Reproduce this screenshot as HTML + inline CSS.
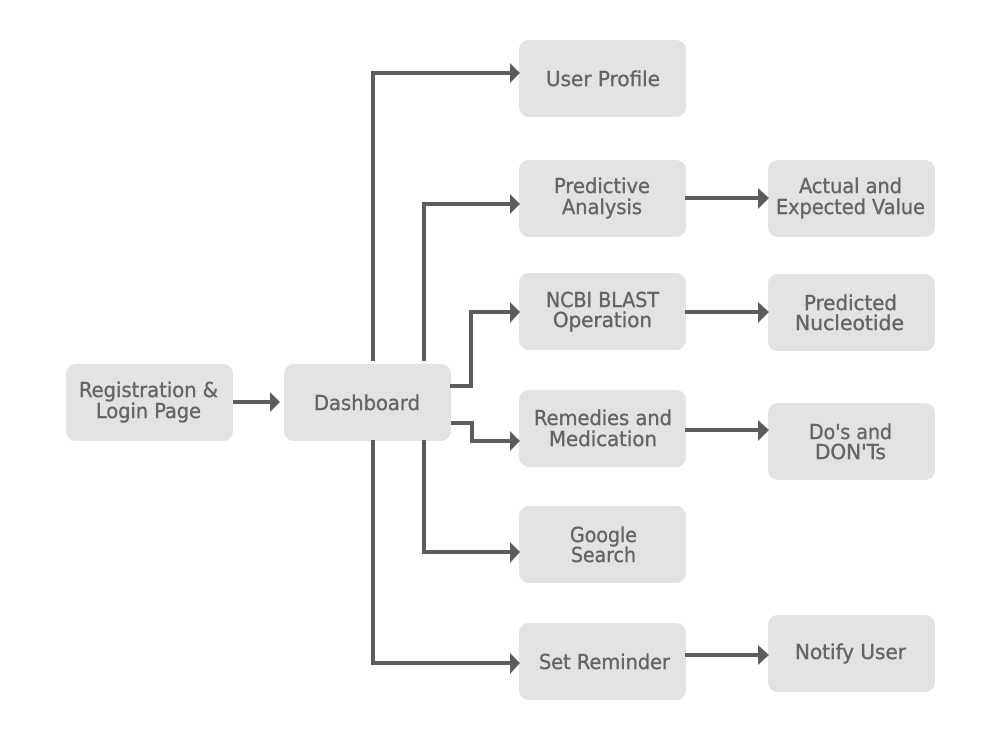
<!DOCTYPE html>
<html><head><meta charset="utf-8"><style>
html,body{margin:0;padding:0;background:#fff}
svg{display:block}
text{font-family:"DejaVu Sans",sans-serif;font-size:20px;fill:#646464;stroke:#646464;stroke-width:.4px}
rect{fill:#e3e3e3}
path.l{fill:none;stroke:#5c5c5c;stroke-width:4}
path.a{fill:#5c5c5c}
</style></head><body>
<svg width="1000" height="740" viewBox="0 0 1000 740" xmlns="http://www.w3.org/2000/svg">
<rect x="66" y="364" width="167" height="77" rx="10"/>
<rect x="284" y="364" width="167" height="77" rx="10"/>
<rect x="519" y="40" width="167" height="77" rx="10"/>
<rect x="519" y="160" width="167" height="77" rx="10"/>
<rect x="519" y="273" width="167" height="77" rx="10"/>
<rect x="519" y="390" width="167" height="77" rx="10"/>
<rect x="519" y="506" width="167" height="77" rx="10"/>
<rect x="519" y="623" width="167" height="77" rx="10"/>
<rect x="768" y="160" width="167" height="77" rx="10"/>
<rect x="768" y="274" width="167" height="77" rx="10"/>
<rect x="768" y="403" width="167" height="77" rx="10"/>
<rect x="768" y="615" width="167" height="77" rx="10"/>

<path class="l" d="M233 402H272"/><path class="a" d="M270 392L280 402L270 412Z"/>
<path class="l" d="M373 361V73H512"/><path class="a" d="M510 63L520 73L510 83Z"/>
<path class="l" d="M424 361V204H512"/><path class="a" d="M510 194L520 204L510 214Z"/>
<path class="l" d="M450 386H471V312H512"/><path class="a" d="M510 302L520 312L510 323Z"/>
<path class="l" d="M451 423H472V441H512"/><path class="a" d="M510 431L520 441L510 451Z"/>
<path class="l" d="M424 440V552H512"/><path class="a" d="M510 542L520 552L510 563Z"/>
<path class="l" d="M373 440V663H512"/><path class="a" d="M510 653L520 663L510 674Z"/>
<path class="l" d="M685 198H760"/><path class="a" d="M758 188L769 198L758 209Z"/>
<path class="l" d="M685 312H760"/><path class="a" d="M758 302L769 312L758 323Z"/>
<path class="l" d="M685 430H760"/><path class="a" d="M758 420L769 430L758 441Z"/>
<path class="l" d="M685 655H760"/><path class="a" d="M758 645L769 655L758 665Z"/>

<text x="79" y="397" textLength="139" lengthAdjust="spacingAndGlyphs">Registration &amp;</text>
<text x="96" y="418" textLength="105" lengthAdjust="spacingAndGlyphs">Login Page</text>
<text x="314" y="410" textLength="106" lengthAdjust="spacingAndGlyphs">Dashboard</text>
<text x="546" y="86" textLength="114" lengthAdjust="spacingAndGlyphs">User Profile</text>
<text x="554" y="193" textLength="96" lengthAdjust="spacingAndGlyphs">Predictive</text>
<text x="562" y="214" textLength="80" lengthAdjust="spacingAndGlyphs">Analysis</text>
<text x="546" y="307" textLength="113" lengthAdjust="spacingAndGlyphs">NCBI BLAST</text>
<text x="553" y="327" textLength="99" lengthAdjust="spacingAndGlyphs">Operation</text>
<text x="534" y="425" textLength="138" lengthAdjust="spacingAndGlyphs">Remedies and</text>
<text x="549" y="446" textLength="108" lengthAdjust="spacingAndGlyphs">Medication</text>
<text x="570" y="542" textLength="67" lengthAdjust="spacingAndGlyphs">Google</text>
<text x="571" y="562" textLength="65" lengthAdjust="spacingAndGlyphs">Search</text>
<text x="539" y="669" textLength="131" lengthAdjust="spacingAndGlyphs">Set Reminder</text>
<text x="799" y="193" textLength="103" lengthAdjust="spacingAndGlyphs">Actual and</text>
<text x="776" y="214" textLength="149" lengthAdjust="spacingAndGlyphs">Expected Value</text>
<text x="804" y="310" textLength="93" lengthAdjust="spacingAndGlyphs">Predicted</text>
<text x="795" y="330" textLength="109" lengthAdjust="spacingAndGlyphs">Nucleotide</text>
<text x="809" y="439" textLength="83" lengthAdjust="spacingAndGlyphs">Do's and</text>
<text x="815" y="459" textLength="71" lengthAdjust="spacingAndGlyphs">DON'Ts</text>
<text x="795" y="659" textLength="111" lengthAdjust="spacingAndGlyphs">Notify User</text>
</svg>
</body></html>
